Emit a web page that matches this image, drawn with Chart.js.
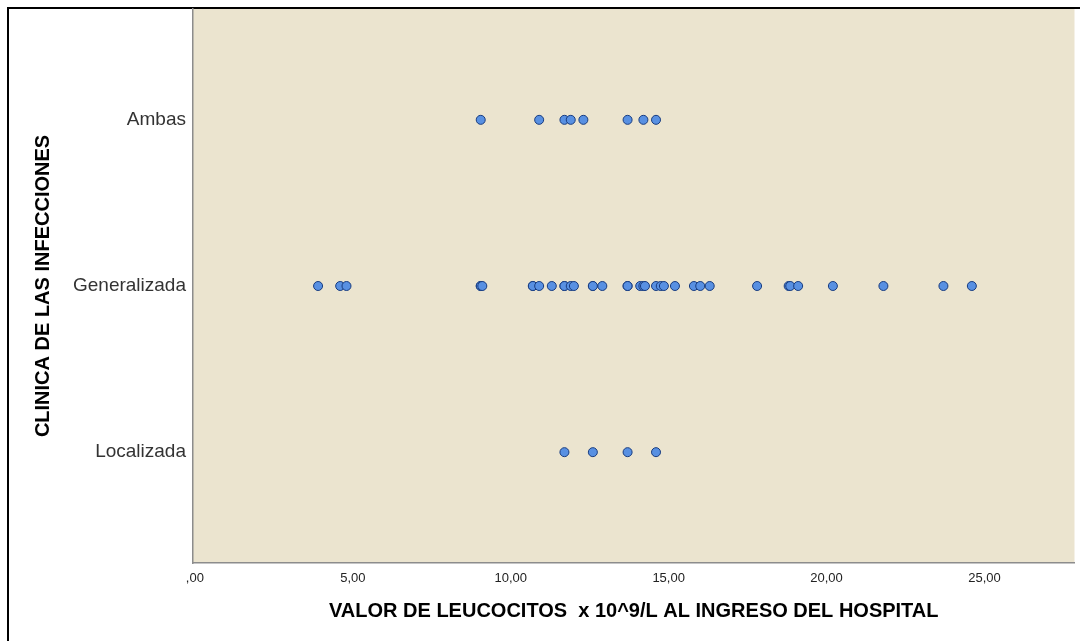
<!DOCTYPE html>
<html>
<head>
<meta charset="utf-8">
<script src="https://cdn.jsdelivr.net/npm/chart.js@4.4.0/dist/chart.umd.min.js"></script>
<style>
  html, body { margin: 0; padding: 0; background: #fff; }
  #wrap { width: 1080px; height: 641px; }
</style>
</head>
<body>
<div id="wrap"><canvas id="myChart" width="1080" height="641"></canvas></div>
<script>
// categories, bottom to top
const categories = ['Localizada', 'Generalizada', 'Ambas'];

// leucocitos x 10^9/L per group
const localizada = [11.7, 12.6, 13.7, 14.6];
const generalizada = [3.9, 4.6, 4.8, 9.05, 9.05, 9.1, 10.7, 10.7, 10.9, 11.3, 11.7, 11.7, 11.9, 12.0,
  12.6, 12.6, 12.9, 13.7, 13.7, 14.1, 14.2, 14.25, 14.6, 14.75, 14.85, 15.2, 15.8, 16.0, 16.3,
  17.8, 18.8, 18.85, 19.1, 20.2, 21.8, 23.7, 24.6];
const ambas = [9.05, 10.9, 11.7, 11.9, 12.3, 13.7, 14.2, 14.6];

const xTicks = [0, 5, 10, 15, 20, 25];

const groups = [localizada, generalizada, ambas];
let points = [];
groups.forEach((vals, i) => {
  vals.forEach(v => points.push({ x: v, y: i }));
});

const fontFam = '"Liberation Sans", Arial, sans-serif';

const frame = {
  id: 'frame',
  beforeDraw(chart) {
    const { ctx, chartArea: a } = chart;
    ctx.save();
    ctx.fillStyle = '#ebe4cf';
    ctx.fillRect(a.left, a.top, a.right - a.left, a.bottom - a.top);
    ctx.strokeStyle = '#000';
    ctx.lineWidth = 2;
    ctx.beginPath();
    ctx.moveTo(1080, 8);
    ctx.lineTo(8, 8);
    ctx.lineTo(8, 641);
    ctx.stroke();
    ctx.restore();
  }
};

function noPad(s) {
  s.paddingTop = 0;
  s.paddingBottom = 0;
  s.paddingLeft = 0;
  s.paddingRight = 0;
}

let orders = document.getElementById('myChart');

var myChart = new Chart(orders, {
  type: 'scatter',
  data: {
    datasets: [{
      data: points,
      backgroundColor: 'rgb(88,144,226)',
      borderColor: 'rgb(24,60,128)',
      borderWidth: 1,
      pointRadius: 4.5,
      pointHoverRadius: 4.5
    }]
  },
  options: {
    responsive: false,
    animation: false,
    layout: { padding: { left: 8, right: 2, top: 9, bottom: 0 } },
    plugins: {
      legend: { display: false },
      tooltip: { enabled: false }
    },
    scales: {
      x: {
        type: 'linear',
        min: -0.06,
        max: 27.85,
        afterBuildTicks: s => { s.ticks = xTicks.map(v => ({ value: v })); },
        afterFit: s => { s.height = 78; noPad(s); },
        grid: { display: false, drawTicks: false },
        border: { display: true, color: '#8c8c8c', width: 1.5 },
        ticks: {
          padding: 8,
          color: '#222',
          font: { family: fontFam, size: 13 },
          callback: v => v === 0 ? ',00' : v.toFixed(2).replace('.', ',')
        },
        title: {
          display: true,
          text: 'VALOR DE LEUCOCITOS  x 10^9/L AL INGRESO DEL HOSPITAL',
          color: '#000',
          font: { family: fontFam, size: 20, weight: 'bold' },
          padding: { top: 0, bottom: 18 }
        }
      },
      y: {
        type: 'linear',
        min: -0.667,
        max: 2.667,
        afterBuildTicks: s => { s.ticks = [0, 1, 2].map(v => ({ value: v })); },
        afterFit: s => { s.width = 185; noPad(s); },
        grid: { display: false, drawTicks: false },
        border: { display: true, color: '#8c8c8c', width: 1.5 },
        ticks: {
          padding: 7,
          color: '#333',
          font: { family: fontFam, size: 19 },
          callback: v => categories[v]
        },
        title: {
          display: true,
          text: 'CLINICA DE LAS INFECCIONES',
          color: '#000',
          font: { family: fontFam, size: 20, weight: 'bold' },
          padding: { top: 23, bottom: 0 }
        }
      }
    }
  },
  plugins: [frame]
});
</script>
</body>
</html>
